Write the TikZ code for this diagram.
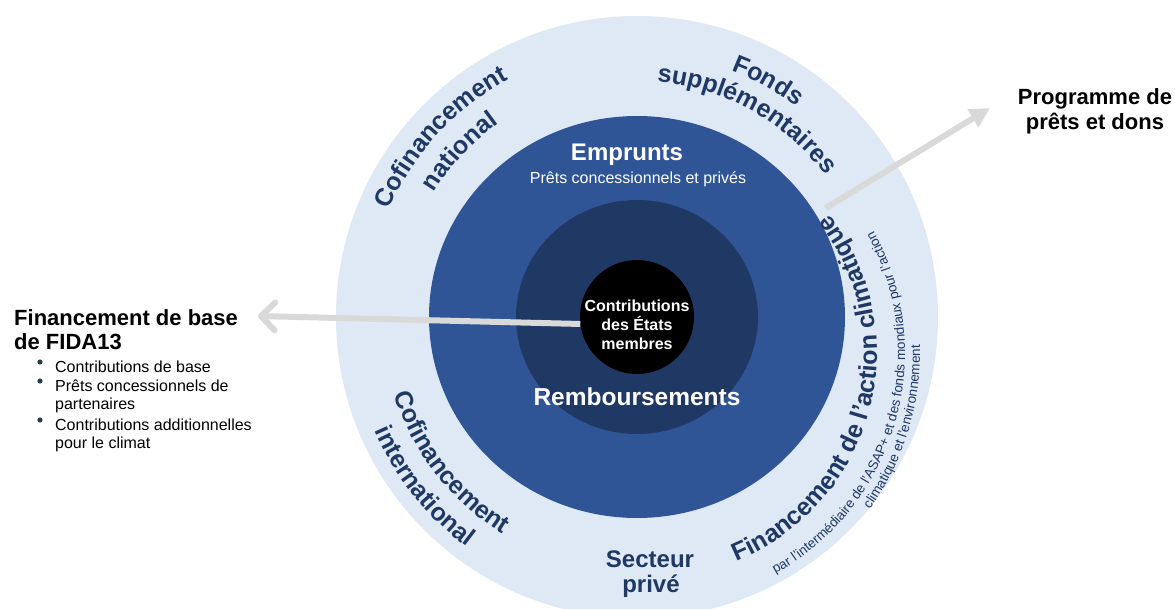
\documentclass[tikz,border=0pt]{standalone}
\usepackage{fontspec}
\setmainfont{Liberation Sans}
\usetikzlibrary{arrows.meta,decorations.text,calc}

\definecolor{ringlight}{HTML}{DEE9F5}
\definecolor{ringmid}{HTML}{2F5597}
\definecolor{ringdark}{HTML}{203864}
\definecolor{navytext}{HTML}{1F3864}
\definecolor{arrowgray}{HTML}{D9D9D9}
\definecolor{bulletdark}{HTML}{243F48}

\newcommand\ringlabelfont{\fontsize{25}{25}\selectfont\bfseries\color{navytext}}
\newcommand\ringnotefont{\fontsize{13.5}{13.5}\selectfont\color{navytext}}

\tikzset{
  ringlabel/.style={decorate, decoration={text along path, text align=center, text={#1}}},
  flowline/.style={draw=arrowgray, line width=6pt},
  whitebig/.style={text=white, font=\fontsize{24}{24}\selectfont\bfseries, inner sep=0pt},
  navybig/.style={text=navytext, font=\fontsize{24}{24}\selectfont\bfseries, inner sep=0pt},
  sidehead/.style={text=black, font=\fontsize{22}{24}\selectfont\bfseries, inner sep=0pt},
  sideitem/.style={text=black, font=\fontsize{16}{18}\selectfont, inner sep=0pt, anchor=base west},
}

\begin{document}
\begin{tikzpicture}[x=1pt,y=1pt]
      \useasboundingbox (-637,-291) rectangle (538,317);
      \clip (-637,-291) rectangle (538,317);
      \def\rOuter{301pt}
      % Draw rings
      \fill[ringlight] (0,0) circle (\rOuter);
      \fill[ringmid] (0,0) ellipse [x radius=208pt, y radius=201pt];
      \fill[ringdark] (0,0) ellipse [x radius=121pt, y radius=117pt];
      \node[circle, fill=black, inner sep=0pt, minimum size=114pt] (members) at (0,0) {};
      % Free ends of the arrows
      \coordinate (coretip) at (-379,1);
      \coordinate (granttail) at (30:218pt);
      \coordinate (granttip) at (353,209);
      \coordinate (climo) at (15,-36);
      \draw[flowline, -{Straight Barb[length=14pt, width=28pt, round]}] (members.187) -- (coretip);
      \draw[flowline, -{Triangle[length=20pt, width=20pt]}] (granttail) -- (granttip);
      % Inner labels
      \node[text=white, align=center, inner sep=0pt,
        font=\fontsize{16}{19}\selectfont\bfseries] (memberstext) at (0,-8) {Contributions\\des États\\membres};
      \node[whitebig, anchor=base] (borrow) at (-10,156) {Emprunts};
      \node[text=white, font=\fontsize{16}{16}\selectfont, inner sep=0pt, anchor=base] (borrowsub) at (1,133) {Prêts concessionnels et privés};
      \node[whitebig, font=\fontsize{24.5}{24.5}\selectfont\bfseries, anchor=base] (reflows) at (0,-88) {Remboursements};
      % Outer ring labels
      \path[ringlabel={|\ringlabelfont|Cofinancement}] (180:270pt) arc[start angle=180, end angle=95, radius=270pt];
      \path[ringlabel={|\ringlabelfont|national}] (180:238pt) arc[start angle=180, end angle=94, radius=238pt];
      \path[ringlabel={|\ringlabelfont|Fonds}] (100:264pt) arc[start angle=100, end angle=22, radius=264pt];
      \path[ringlabel={|\ringlabelfont|supplémentaires}] (100:236pt) arc[start angle=100, end angle=22, radius=236pt];
      \path[ringlabel={|\ringlabelfont|Cofinancement}] (175:255pt) arc[start angle=175, end angle=261, radius=255pt];
      \path[ringlabel={|\ringlabelfont|international}] (175.5:286pt) arc[start angle=175.5, end angle=261.5, radius=286pt];
      \path[ringlabel={|\ringlabelfont|Financement de l’action climatique}] ([shift={(-105:225pt)}]climo) arc[start angle=-105, end angle=75, radius=225pt];
      \path[ringlabel={|\ringnotefont|par l’intermédiaire de l’ASAP+ et des fonds mondiaux pour l’action}] ([shift={(-106:253pt)}]climo) arc[start angle=-106, end angle=74, radius=253pt];
      \path[ringlabel={|\ringnotefont|climatique et l’environnement}] ([shift={(-107:268pt)}]climo) arc[start angle=-107, end angle=73, radius=268pt];
      \node[navybig, anchor=base] (private) at (13,-250) {Secteur};
      \node[navybig, anchor=base] (privatetwo) at (14,-275) {privé};
      % Left block
      \node[sidehead, anchor=base west] (coretitle) at (-623,-8) {Financement de base};
      \node[sidehead, anchor=base west] (coretitletwo) at (-623,-32) {de FIDA13};
      \foreach \i/\ypos/\txt in {1/-55/Contributions de base, 2/-74/Prêts concessionnels de, 3/-92.5/partenaires, 4/-113/Contributions additionnelles, 5/-131.5/pour le climat}
        \node[sideitem] (item\i) at (-582,\ypos) {\txt};
      \foreach \ypos in {-45,-64,-103}
        \fill[bulletdark] (-597,\ypos) circle (2.6pt);
      % Right block
      \node[sidehead, anchor=base] (grants) at (458,212) {Programme de};
      \node[sidehead, anchor=base] (grantstwo) at (458,187) {prêts et dons};
\end{tikzpicture}
\end{document}
